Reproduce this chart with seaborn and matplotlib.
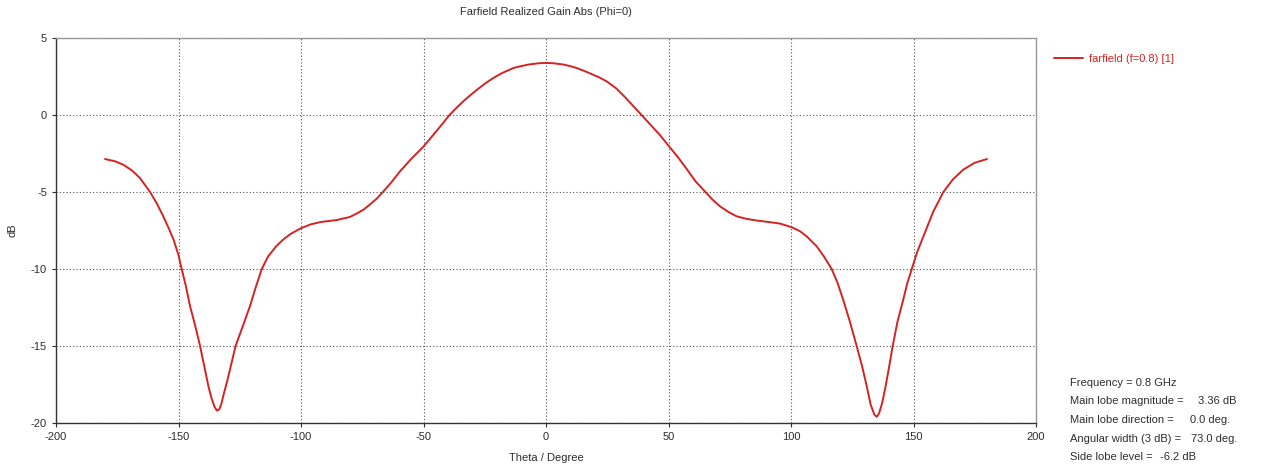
import matplotlib
matplotlib.use("Agg")
import matplotlib.pyplot as plt
import pandas as pd
import seaborn as sns

# Data (Phi=0)
theta = [
    -180, -176, -172.5, -169, -165.7, -161.6, -159, -156.2, -154, -152,
    -150, -148.7, -147, -145.3, -143, -141.2, -139.5, -137.8, -136.5, -135.3,
    -134.3, -133.3, -132.5, -131.5, -130, -128.5, -126.7, -123.5, -120.8, -118.5,
    -116, -113.5, -110, -107, -104, -100, -96, -92, -85.4, -80,
    -77.3, -74.5, -71.8, -69, -66.4, -63, -59.6, -55, -50, -45,
    -42, -39.4, -36, -33, -28.5, -24.2, -21, -18, -13.3, -10,
    -7, -3, 0, 3, 7, 10, 12.5, 15, 18, 21.5,
    24.8, 28.5, 32, 35.5, 39, 42, 46.5, 50.3, 53.9, 57.4,
    61, 64.9, 68, 71, 74.5, 77.8, 82, 86, 91, 95.5,
    100.5, 103.7, 106.4, 110.5, 113.5, 116.6, 119, 121.3, 124, 126.8,
    129, 130.9, 132.5, 134, 135, 136, 137.2, 138.4, 140, 141.5,
    143.5, 145.8, 147.5, 149.3, 151.5, 154, 158, 162.2, 166, 170.3,
    175, 180,
]
gain_db = [
    -2.86, -3.0, -3.23, -3.6, -4.1, -5.0, -5.7, -6.58, -7.35, -8.1,
    -9.1, -10.0, -11.1, -12.4, -13.8, -15.0, -16.3, -17.6, -18.4, -18.95,
    -19.2, -19.1, -18.75, -18.1, -17.2, -16.2, -15.0, -13.6, -12.4, -11.2,
    -10.0, -9.2, -8.5, -8.05, -7.7, -7.35, -7.1, -6.95, -6.82, -6.62,
    -6.4, -6.15, -5.8, -5.42, -4.97, -4.35, -3.66, -2.85, -2.05, -1.1,
    -0.52, 0.0, 0.55, 1.0, 1.6, 2.12, 2.45, 2.72, 3.05, 3.18,
    3.28, 3.36, 3.38, 3.36, 3.28, 3.17, 3.05, 2.9, 2.7, 2.46,
    2.18, 1.75, 1.2, 0.6, 0.0, -0.52, -1.3, -2.05, -2.75, -3.5,
    -4.3, -4.97, -5.5, -5.93, -6.3, -6.58, -6.75, -6.85, -6.95, -7.05,
    -7.3, -7.55, -7.88, -8.53, -9.2, -10.0, -10.9, -12.0, -13.4, -15.0,
    -16.3, -17.6, -18.8, -19.45, -19.6, -19.35, -18.7, -17.8, -16.4, -15.0,
    -13.4, -12.0, -10.9, -10.0, -8.9, -7.9, -6.3, -5.0, -4.2, -3.55,
    -3.1, -2.86,
]
series_name = "farfield (f=0.8) [1]"

x_ticks = [-200, -150, -100, -50, 0, 50, 100, 150, 200]
y_ticks = [-20, -15, -10, -5, 0, 5]

info_labels = [
    "Frequency = 0.8 GHz",
    "Main lobe magnitude =",
    "Main lobe direction =",
    "Angular width (3 dB) =",
    "Side lobe level =",
]
info_values = ["", "3.36 dB", "0.0 deg.", "73.0 deg.", "-6.2 dB"]

df = pd.DataFrame({"theta": theta, "gain": gain_db, "curve": series_name})

sns.set_style("white")
plt.rcParams["font.family"] = ["Liberation Sans", "DejaVu Sans"]
plt.rcParams["axes.unicode_minus"] = False

red = "#d42323"
txt = "#2e2e2e"
fs = 8

fig = plt.figure(figsize=(12.71, 4.70), dpi=100)
ax = fig.add_axes([56 / 1271, 1 - 423 / 470, (1036 - 56) / 1271, (423 - 38) / 470])

sns.lineplot(data=df, x="theta", y="gain", hue="curve", palette=[red],
             sort=False, linewidth=1.4, ax=ax)

ax.set_xlim(-200, 200)
ax.set_ylim(-20, 5)
ax.set_xticks(x_ticks)
ax.set_yticks(y_ticks)
ax.tick_params(labelsize=fs, colors=txt, length=3, direction="out",
               left=True, bottom=True)
ax.grid(True, color="#555555", linestyle=(0, (1, 2)), linewidth=0.8)

for side in ["left", "bottom"]:
    ax.spines[side].set_color("#333333")
    ax.spines[side].set_linewidth(1.0)
for side in ["top", "right"]:
    ax.spines[side].set_color("#9a9a9a")
    ax.spines[side].set_linewidth(1.0)

ax.set_xlabel("")
ax.set_ylabel("")
fig.text(546 / 1271, 1 - 458 / 470, "Theta / Degree", ha="center", va="center",
         fontsize=fs, color=txt)
fig.text(12 / 1271, 1 - 230 / 470, "dB", ha="center", va="center",
         rotation=90, fontsize=fs, color=txt)
fig.text(546 / 1271, 1 - 12 / 470, "Farfield Realized Gain Abs (Phi=0)",
         ha="center", va="center", fontsize=fs, color=txt)

leg = ax.legend(loc="upper left", bbox_to_anchor=(1.008, 0.985), frameon=False,
                fontsize=fs, handlelength=2.6, handletextpad=0.6)
for t in leg.get_texts():
    t.set_color(red)

value_x = [0, 1237, 1230, 1237, 1196]
for i, (lab, val) in enumerate(zip(info_labels, info_values)):
    y = 1 - (383 + i * 18.5) / 470
    fig.text(1070 / 1271, y, lab, ha="left", va="center", fontsize=fs,
             color=txt)
    if val:
        fig.text(value_x[i] / 1271, y, val, ha="right", va="center",
                 fontsize=fs, color=txt)

fig.savefig("out.png", dpi=100)
